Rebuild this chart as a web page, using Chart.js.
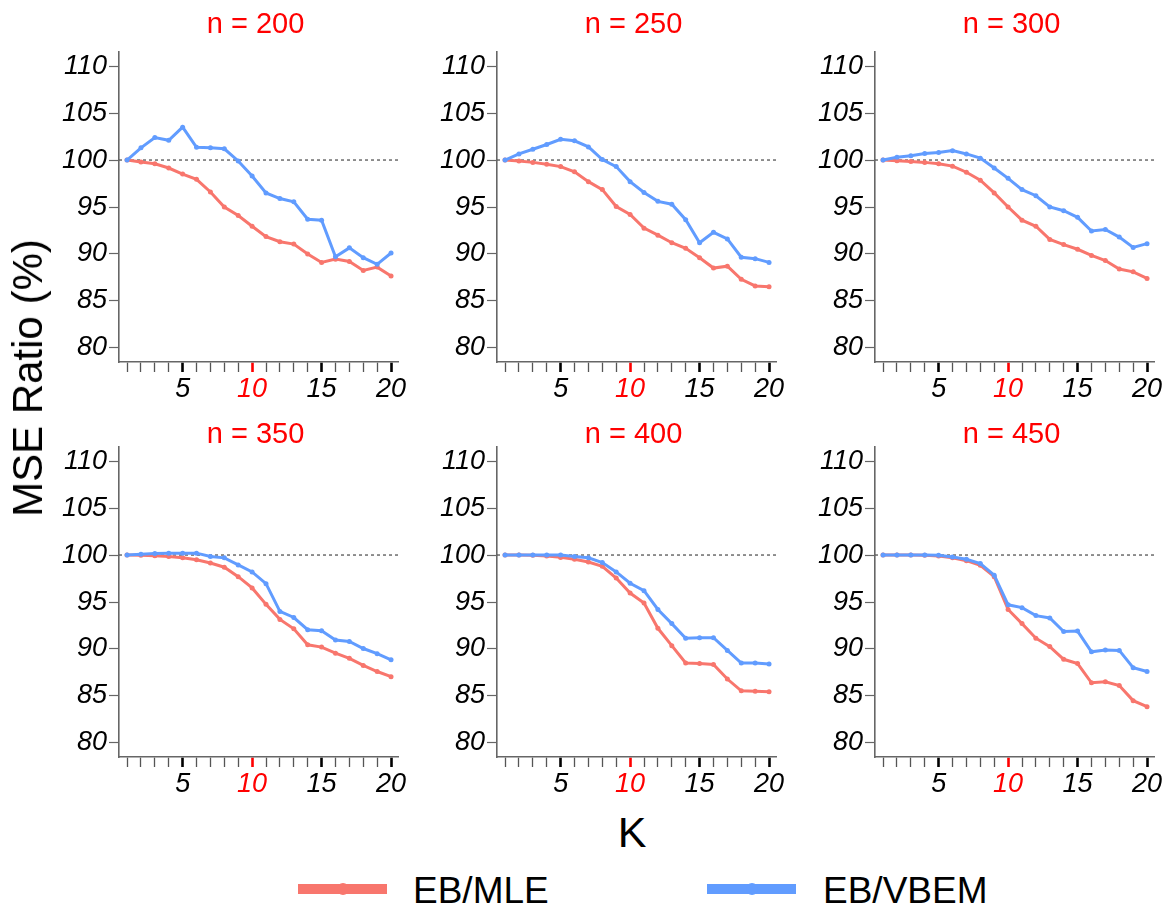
<!DOCTYPE html>
<html>
<head>
<meta charset="utf-8">
<title>MSE Ratio</title>
<script src="https://cdn.jsdelivr.net/npm/chart.js@4.4.1/dist/chart.umd.min.js"></script>
<style>
    html, body { margin: 0; padding: 0; background: #ffffff; }
    #wrap {
        position: relative;
        width: 1171px;
        height: 910px;
        overflow: hidden;
        font-family: 'Liberation Sans', Arial, sans-serif;
        color: #000;
    }
    #wrap canvas { position: absolute; }
    .lbl { position: absolute; line-height: 1; white-space: nowrap; }
    #ylab { left: 28px; top: 378px; font-size: 42px; transform: translate(-50%, -50%) rotate(-90deg); }
    #xlab { left: 632px; top: 832px; font-size: 43px; transform: translate(-50%, -50%); }
    .key-line { position: absolute; top: 884px; width: 89px; height: 10px; }
    .key-dot { position: absolute; top: 883px; width: 12px; height: 12px; border-radius: 50%; }
    .key-text { position: absolute; top: 889.5px; font-size: 37px; line-height: 1; transform: translateY(-50%); }
</style>
</head>
<body>
<div id="wrap">
    <canvas id="p200" width="412" height="402" style="left:49px;top:0px"></canvas>
    <canvas id="p250" width="412" height="402" style="left:427px;top:0px"></canvas>
    <canvas id="p300" width="412" height="402" style="left:805px;top:0px"></canvas>
    <canvas id="p350" width="412" height="402" style="left:49px;top:395px"></canvas>
    <canvas id="p400" width="412" height="402" style="left:427px;top:395px"></canvas>
    <canvas id="p450" width="412" height="402" style="left:805px;top:395px"></canvas>

    <div id="ylab" class="lbl">MSE Ratio (%)</div>
    <div id="xlab" class="lbl">K</div>

    <div class="key-line" style="left:298px;background:#F8766D"></div>
    <div class="key-dot" style="left:336.5px;background:#F8766D"></div>
    <div class="key-text" style="left:413px">EB/MLE</div>

    <div class="key-line" style="left:707px;background:#619CFF"></div>
    <div class="key-dot" style="left:745.5px;background:#619CFF"></div>
    <div class="key-text" style="left:823px">EB/VBEM</div>
</div>

<script>
// K values and tick labels
const kValues = [1, 2, 3, 4, 5, 6, 7, 8, 9, 10, 11, 12, 13, 14, 15, 16, 17, 18, 19, 20];
const xLabelValues = [5, 10, 15, 20];
const yTickValues = [80, 85, 90, 95, 100, 105, 110];

// MSE ratio (%) per sample size n
const mle200 = [100, 99.8, 99.6, 99.15, 98.5, 97.95, 96.6, 95.0, 94.1, 92.95, 91.85, 91.3, 91.05, 90.0, 89.1, 89.45, 89.2, 88.25, 88.6, 87.65];
const vbem200 = [100, 101.3, 102.4, 102.1, 103.5, 101.35, 101.3, 101.2, 99.9, 98.3, 96.5, 95.9, 95.55, 93.7, 93.6, 89.7, 90.65, 89.6, 88.9, 90.1];

const mle250 = [100, 99.9, 99.75, 99.55, 99.3, 98.75, 97.7, 96.85, 95.05, 94.2, 92.75, 92.0, 91.2, 90.6, 89.6, 88.5, 88.7, 87.3, 86.6, 86.5];
const vbem250 = [100, 100.65, 101.15, 101.65, 102.2, 102.05, 101.4, 100.05, 99.3, 97.7, 96.55, 95.6, 95.3, 93.65, 91.2, 92.3, 91.6, 89.65, 89.5, 89.1];

const mle300 = [100, 99.93, 99.85, 99.75, 99.6, 99.35, 98.7, 97.85, 96.5, 95.0, 93.6, 92.95, 91.55, 91.0, 90.5, 89.85, 89.3, 88.4, 88.1, 87.4];
const vbem300 = [100, 100.3, 100.45, 100.7, 100.8, 101.0, 100.65, 100.2, 99.15, 98.05, 96.85, 96.2, 95.0, 94.6, 93.9, 92.45, 92.6, 91.8, 90.7, 91.1];

const mle350 = [100, 99.97, 99.93, 99.85, 99.7, 99.5, 99.15, 98.7, 97.7, 96.5, 94.75, 93.15, 92.15, 90.45, 90.2, 89.55, 89.0, 88.25, 87.6, 87.05];
const vbem350 = [100, 100.07, 100.15, 100.18, 100.18, 100.2, 99.85, 99.7, 98.95, 98.2, 96.95, 94.0, 93.35, 92.05, 91.95, 90.95, 90.8, 90.05, 89.5, 88.85];

const mle400 = [100, 100, 99.97, 99.9, 99.75, 99.55, 99.25, 98.8, 97.55, 95.95, 94.9, 92.2, 90.35, 88.5, 88.45, 88.35, 86.8, 85.55, 85.5, 85.45];
const vbem400 = [100, 100, 100, 100, 100, 99.85, 99.7, 99.2, 98.2, 97.0, 96.2, 94.2, 92.7, 91.15, 91.2, 91.2, 89.85, 88.5, 88.5, 88.4];

const mle450 = [100, 100, 100, 99.97, 99.9, 99.7, 99.4, 98.9, 97.7, 94.2, 92.7, 91.15, 90.25, 88.9, 88.45, 86.4, 86.5, 86.1, 84.5, 83.85];
const vbem450 = [100, 100, 100, 100, 99.97, 99.8, 99.55, 99.1, 97.85, 94.7, 94.4, 93.55, 93.3, 91.85, 91.9, 89.7, 89.9, 89.85, 88.0, 87.6];

const referenceLevel = 100;

const RED = '#F8766D';
const BLUE = '#619CFF';
const FONT = "'Liberation Sans', Arial, sans-serif";
const X_MIN = 0.42, X_MAX = 20.5;
const Y_MIN = 78.5, Y_MAX = 111.5;

// Facet strip title, centred over the plot area (the built-in title centres over the whole box)
const panelTitle = {
    id: 'panelTitle',
    afterDraw(chart, args, opts) {
        const { ctx, chartArea } = chart;
        ctx.save();
        ctx.fillStyle = opts.color;
        ctx.font = opts.size + 'px ' + FONT;
        ctx.textAlign = 'center';
        ctx.textBaseline = 'middle';
        ctx.fillText(opts.text, (chartArea.left + chartArea.right) / 2 - 3, chartArea.top - opts.gap);
        ctx.restore();
    }
};

function toPoints(values) {
    return kValues.map((k, i) => ({ x: k, y: values[i] }));
}

function seriesStyle(color) {
    return {
        borderColor: color,
        backgroundColor: color,
        borderWidth: 3,
        pointRadius: 2.5,
        pointBorderWidth: 0,
        pointBackgroundColor: color,
        tension: 0
    };
}

function renderPanel(id, title, mle, vbem, row) {
    const ctx = document.getElementById(id);

    new Chart(ctx, {
        type: 'line',
        plugins: [panelTitle],
        data: {
            datasets: [
                Object.assign({ label: 'EB/VBEM', data: toPoints(vbem), order: 0 }, seriesStyle(BLUE)),
                Object.assign({ label: 'EB/MLE', data: toPoints(mle), order: 1 }, seriesStyle(RED)),
                {
                    label: 'reference',
                    data: [{ x: X_MIN, y: referenceLevel }, { x: X_MAX, y: referenceLevel }],
                    borderColor: '#555555',
                    borderWidth: 1.3,
                    borderDash: [3, 3],
                    pointRadius: 0,
                    order: 2
                }
            ]
        },
        options: {
            responsive: false,
            animation: false,
            events: [],
            layout: {
                padding: { left: 0, right: 63, top: 52, bottom: 0 }
            },
            plugins: {
                legend: { display: false },
                tooltip: { enabled: false },
                // top row sits further from its plot than the bottom row
                panelTitle: { text: title, color: '#ff0000', size: 29, gap: row === 0 ? 27 : 12 }
            },
            scales: {
                x: {
                    type: 'linear',
                    min: X_MIN,
                    max: X_MAX,
                    afterBuildTicks: (scale) => {
                        scale.ticks = kValues.map(v => ({ value: v }));
                    },
                    afterFit: (scale) => { scale.height = 40; },
                    border: { color: '#666666', width: 1.6 },
                    grid: {
                        drawOnChartArea: false,
                        drawTicks: true,
                        tickLength: 10,
                        tickColor: (c) => {
                            const v = c.tick ? c.tick.value : 0;
                            if (v === 10) return '#ff0000';
                            return xLabelValues.includes(v) ? '#000000' : '#555555';
                        },
                        tickWidth: (c) => {
                            const v = c.tick ? c.tick.value : 0;
                            return xLabelValues.includes(v) ? 2.6 : 1.3;
                        }
                    },
                    ticks: {
                        autoSkip: false,
                        maxRotation: 0,
                        padding: 1,
                        color: (c) => (c.tick && c.tick.value === 10 ? '#ff0000' : '#000000'),
                        font: { size: 27, style: 'italic', family: FONT },
                        callback: (v) => (xLabelValues.includes(v) ? String(v) : '')
                    }
                },
                y: {
                    type: 'linear',
                    min: Y_MIN,
                    max: Y_MAX,
                    afterBuildTicks: (scale) => {
                        scale.ticks = yTickValues.map(v => ({ value: v }));
                    },
                    afterFit: (scale) => { scale.width = 70; },
                    border: { color: '#666666', width: 1.6 },
                    grid: {
                        drawOnChartArea: false,
                        drawTicks: true,
                        tickLength: 10,
                        tickColor: '#666666',
                        tickWidth: 1.2
                    },
                    ticks: {
                        padding: 2,
                        color: '#000000',
                        font: { size: 27, style: 'italic', family: FONT },
                        callback: (v) => String(v)
                    }
                }
            }
        }
    });
}

renderPanel('p200', 'n = 200', mle200, vbem200, 0);
renderPanel('p250', 'n = 250', mle250, vbem250, 0);
renderPanel('p300', 'n = 300', mle300, vbem300, 0);
renderPanel('p350', 'n = 350', mle350, vbem350, 1);
renderPanel('p400', 'n = 400', mle400, vbem400, 1);
renderPanel('p450', 'n = 450', mle450, vbem450, 1);
</script>
</body>
</html>
